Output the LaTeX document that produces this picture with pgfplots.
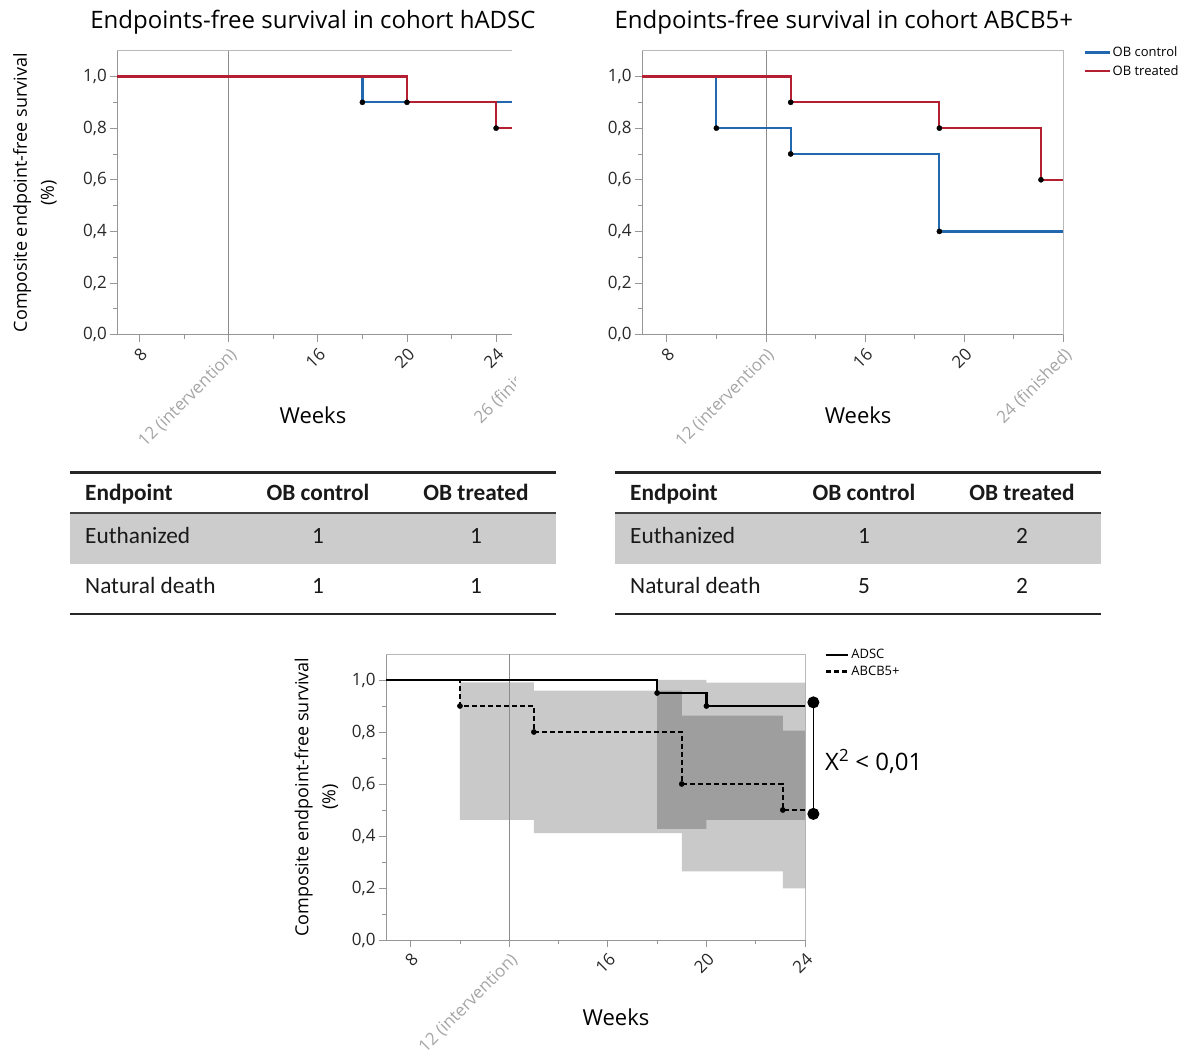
\documentclass[border=0pt]{standalone}
\usepackage{fontspec}
\setmainfont{Open Sans}
\newfontfamily\tabfont{Carlito}
\usepackage{pgfplots}
\pgfplotsset{compat=1.18}

\definecolor{obblue}{RGB}{33,104,175}
\definecolor{obred}{RGB}{180,32,50}
\definecolor{axgray}{RGB}{150,150,150}
\definecolor{framegray}{RGB}{185,185,185}
\definecolor{ticktext}{RGB}{40,40,40}
\definecolor{lightlabel}{RGB}{165,165,165}
\definecolor{bandgray}{RGB}{204,204,204}
\definecolor{vline}{RGB}{140,140,140}

\newcommand{\fs}[2]{\fontsize{#1}{#2}\selectfont}

\pgfplotsset{
  km/.style={
    scale only axis,
    height=284pt,
    ymin=0, ymax=1.1,
    axis lines*=left,
    axis line style={-, axgray, line width=0.9pt},
    clip=false,
    tick align=outside,
    major tick length=7pt,
    minor tick length=4pt,
    tick style={axgray, line width=0.8pt},
    ytick={0,0.2,0.4,0.6,0.8,1.0},
    minor y tick num=1,
    minor x tick num=1,
    xtick={8,12,16,20,24},
    yticklabel style={font=\fs{17}{20}, text=ticktext,
      /pgf/number format/.cd, fixed, fixed zerofill, precision=1, use comma, assume math mode=true},
    xticklabel style={font=\fs{17}{20}, text=ticktext, rotate=45, anchor=north east},
    title style={font=\fs{24}{28}, text=black, anchor=center},
    xlabel style={font=\fs{22}{26}, text=black, anchor=center},
    ylabel style={font=\fs{18}{27}, text=black, align=center, anchor=center},
    legend cell align=left,
  }
}

\begin{document}
\begin{tikzpicture}
\useasboundingbox (0pt,0pt) rectangle (1184pt,1054pt);

% ---------------- top-left ----------------
\begin{axis}[km, name=tl,
  at={(117.3pt,719.3pt)}, anchor=south west,
  width=394.4pt, xmin=7, xmax=24.7,
  xticklabels={8,{\textcolor{lightlabel}{12 (intervention)}},16,20,24},
  title={Endpoints-free survival in cohort hADSC},
  title style={at={(axis description cs:0.496,1)}, yshift=22.7pt},
  xlabel={Weeks},
  xlabel style={at={(axis description cs:0.496,-0.283)}},
  ylabel={Composite endpoint-free survival\\(\%)},
  ylabel style={at={(axis description cs:-0.209,0.5)}},
]
\draw[framegray, line width=0.9pt] (rel axis cs:0,1) -- (rel axis cs:1,1);
\addplot[vline, line width=0.8pt, forget plot] coordinates {(12,0) (12,1.1)};
\addplot[obblue, line width=2.2pt, const plot] coordinates {(7,1.0) (18,0.9) (24.7,0.9)};
\addplot[obred, line width=2.2pt, const plot] coordinates {(7,1.0) (20,0.9) (24,0.8) (24.7,0.8)};
\addplot[only marks, mark=*, mark size=2.6pt, black, forget plot] coordinates {(18,0.9) (20,0.9) (24,0.8)};
\end{axis}
\begin{scope}
\clip (430pt,560pt) rectangle (515pt,719.3pt);
\node[rotate=45, anchor=north east, font=\fs{17}{20}, text=lightlabel] at (540.6pt,712.3pt) {26 (finished)};
\end{scope}

% ---------------- top-right ----------------
\begin{axis}[km, name=tr,
  at={(642pt,719.3pt)}, anchor=south west,
  width=421.3pt, xmin=7, xmax=24,
  xticklabels={8,{\textcolor{lightlabel}{12 (intervention)}},16,20,{\textcolor{lightlabel}{24 (finished)}}},
  title={Endpoints-free survival in cohort ABCB5+},
  title style={at={(axis description cs:0.479,1)}, yshift=22.7pt},
  xlabel={Weeks},
  xlabel style={at={(axis description cs:0.513,-0.283)}},
  legend style={at={(axis description cs:1,1)}, anchor=north west, xshift=20pt, yshift=6pt,
    draw=none, fill=none, inner sep=0pt, font=\fs{13}{15}, row sep=3pt,
    /tikz/every even column/.append style={column sep=1pt}},
  legend image code/.code={\draw[#1] (0pt,0pt) -- (25pt,0pt);},
]
\draw[framegray, line width=0.9pt] (rel axis cs:0,1) -- (rel axis cs:1,1) -- (rel axis cs:1,0);
\addplot[vline, line width=0.8pt, forget plot] coordinates {(12,0) (12,1.1)};
\addplot[obblue, line width=2.2pt, const plot] coordinates {(7,1.0) (10,0.8) (13,0.7) (19,0.4) (24,0.4)};
\addlegendentry{OB control}
\addplot[obred, line width=2.2pt, const plot] coordinates {(7,1.0) (13,0.9) (19,0.8) (23.1,0.6) (24,0.6)};
\addlegendentry{OB treated}
\addplot[only marks, mark=*, mark size=2.6pt, black, forget plot] coordinates {(10,0.8) (13,0.7) (19,0.4) (13,0.9) (19,0.8) (23.1,0.6)};
\end{axis}

% ---------------- tables ----------------
\begin{scope}[every node/.style={inner sep=0pt, font=\tabfont\fs{23.3}{28}, text=black!90}]
% left
\fill[bandgray] (70pt,539.7pt) rectangle (556pt,490pt);
\draw[line width=2.5pt, black!85] (70pt,581.3pt) -- (556pt,581.3pt);
\draw[line width=2.2pt, black!75] (70pt,540.7pt) -- (556pt,540.7pt);
\draw[line width=2.8pt, black!85] (70pt,440pt) -- (556pt,440pt);
\node[anchor=base west] at (85pt,553.3pt) {\bfseries Endpoint};
\node[anchor=base] at (318pt,553.3pt) {\bfseries OB control};
\node[anchor=base] at (476pt,553.3pt) {\bfseries OB treated};
\node[anchor=base west] at (85pt,510pt) {Euthanized};
\node[anchor=base] at (318pt,510pt) {1};
\node[anchor=base] at (476pt,510pt) {1};
\node[anchor=base west] at (85pt,460.7pt) {Natural death};
\node[anchor=base] at (318pt,460.7pt) {1};
\node[anchor=base] at (476pt,460.7pt) {1};
% right
\fill[bandgray] (615pt,539.7pt) rectangle (1101pt,490pt);
\draw[line width=2.5pt, black!85] (615pt,581.3pt) -- (1101pt,581.3pt);
\draw[line width=2.2pt, black!75] (615pt,540.7pt) -- (1101pt,540.7pt);
\draw[line width=2.8pt, black!85] (615pt,440pt) -- (1101pt,440pt);
\node[anchor=base west] at (630pt,553.3pt) {\bfseries Endpoint};
\node[anchor=base] at (864pt,553.3pt) {\bfseries OB control};
\node[anchor=base] at (1022pt,553.3pt) {\bfseries OB treated};
\node[anchor=base west] at (630pt,510pt) {Euthanized};
\node[anchor=base] at (864pt,510pt) {1};
\node[anchor=base] at (1022pt,510pt) {2};
\node[anchor=base west] at (630pt,460.7pt) {Natural death};
\node[anchor=base] at (864pt,460.7pt) {5};
\node[anchor=base] at (1022pt,460.7pt) {2};
\end{scope}

% ---------------- bottom ----------------
\begin{axis}[km, name=bt,
  at={(386pt,114pt)}, anchor=south west,
  width=419pt, height=286pt, xmin=7, xmax=24,
  xticklabels={8,{\textcolor{lightlabel}{12 (intervention)}},16,20,24},
  xlabel={Weeks},
  xlabel style={at={(axis description cs:0.549,-0.269)}},
  ylabel={Composite endpoint-free survival\\(\%)},
  ylabel style={at={(axis description cs:-0.166,0.5)}},
  legend style={at={(axis description cs:1,1)}, anchor=north west, xshift=20pt, yshift=7pt,
    draw=none, fill=none, inner sep=0pt, font=\fs{13}{15}, row sep=2pt,
    /tikz/every even column/.append style={column sep=1pt}},
  legend image code/.code={\draw[#1] (0pt,0pt) -- (22pt,0pt);},
]
\draw[framegray, line width=0.9pt] (rel axis cs:0,1) -- (rel axis cs:1,1) -- (rel axis cs:1,0);
% confidence bands
\addplot[fill=black, fill opacity=0.21, draw=none, forget plot] coordinates {
  (10,0.991) (13,0.991) (13,0.959) (19,0.959) (19,0.863) (23.1,0.863) (23.1,0.805) (24,0.805)
  (24,0.199) (23.1,0.199) (23.1,0.264) (19,0.264) (19,0.411) (13,0.411) (13,0.462) (10,0.462)} -- cycle;
\addplot[fill=black, fill opacity=0.21, draw=none, forget plot] coordinates {
  (18,1.0) (20,1.0) (20,0.99) (24,0.99) (24,0.462) (20,0.462) (20,0.427) (18,0.427)} -- cycle;
\addplot[vline, line width=0.8pt, forget plot] coordinates {(12,0) (12,1.1)};
\addplot[black, line width=2.2pt, const plot] coordinates {(7,1.0) (18,0.95) (20,0.9) (24,0.9)};
\addlegendentry{ADSC}
\addplot[black, line width=2.2pt, const plot, dash pattern=on 5pt off 3pt] coordinates {(7,1.0) (10,0.9) (13,0.8) (19,0.6) (23.1,0.5) (24,0.5)};
\addlegendentry{ABCB5+}
\addplot[black, line width=2.2pt, const plot, forget plot] coordinates {(7,1.0) (18,0.95) (20,0.9) (24,0.9)};
\addplot[only marks, mark=*, mark size=2.6pt, black, forget plot] coordinates {(18,0.95) (20,0.9) (10,0.9) (13,0.8) (19,0.6) (23.1,0.5)};
% chi-square bracket
\addplot[black, line width=1pt, mark=*, mark size=5.5pt, forget plot] coordinates {(24.34,0.914) (24.34,0.485)};
\node[anchor=west, inner sep=0pt, font=\fs{24}{28}] at (axis cs:24.81,0.686) {X\textsuperscript{2} < 0,01};
\end{axis}
\end{tikzpicture}
\end{document}
